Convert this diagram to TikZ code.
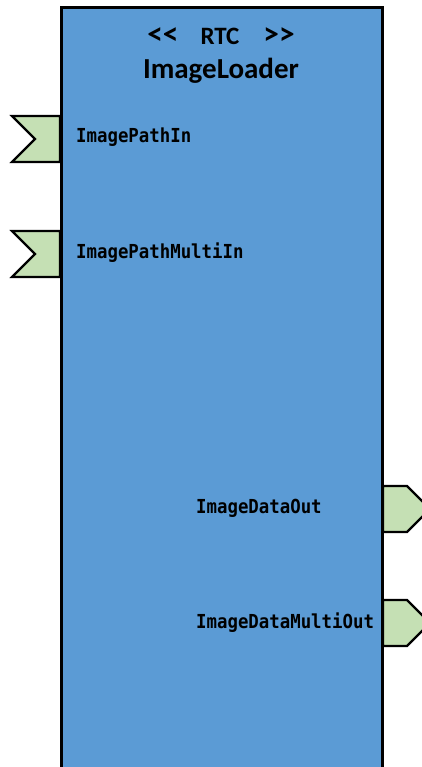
\documentclass[tikz,border=0pt]{standalone}
\usepackage{fontspec}
\newfontfamily\titlefont{Carlito}
\newfontfamily\portfont[FakeStretch=0.9]{DejaVu Sans Mono}
\definecolor{rtcblue}{HTML}{5B9BD5}
\definecolor{portgreen}{HTML}{C5E0B4}
\tikzset{
  rtcbox/.style={fill=rtcblue, draw=black, line width=3pt},
  portshape/.style={fill=portgreen, draw=black, line width=2.2pt, line join=miter},
  portlabel/.style={font=\portfont\bfseries\fontsize{19.3}{22}\selectfont, anchor=base west, inner sep=0pt},
  titletext/.style={font=\titlefont\bfseries, anchor=base, inner sep=0pt}
}
\begin{document}
\begin{tikzpicture}[x=1pt,y=-1pt]
\useasboundingbox (0,0) rectangle (422,767);
\clip (0,0) rectangle (422,767);
% main component box (extends past bottom)
\draw[rtcbox] (61,8) -- (61,790) -- (382,790) -- (382,8) -- cycle;
\node[titletext] (stereo) at (221,44.5) {\fontsize{25}{28}\selectfont \scalebox{1.25}{<<}\hspace{22pt}RTC\hspace{24pt}\scalebox{1.25}{>>}};
\node[titletext] (name) at (221,79) {\fontsize{29}{32}\selectfont ImageLoader};
% input ports
\draw[portshape] (12,116) -- (60,116) -- (60,162) -- (12,162) -- (35,139) -- cycle;
\draw[portshape] (12,231) -- (60,231) -- (60,277) -- (12,277) -- (35,254) -- cycle;
% output ports
\draw[portshape] (383,486) -- (407,486) -- (430,509) -- (407,532) -- (383,532) -- cycle;
\draw[portshape] (383,600) -- (407,600) -- (430,623) -- (407,646) -- (383,646) -- cycle;
% labels
\node[portlabel] (in1) at (76,143) {ImagePathIn};
\node[portlabel] (in2) at (76,258) {ImagePathMultiIn};
\node[portlabel] (out1) at (196,513) {ImageDataOut};
\node[portlabel] (out2) at (196,628) {ImageDataMultiOut};
\end{tikzpicture}
\end{document}
